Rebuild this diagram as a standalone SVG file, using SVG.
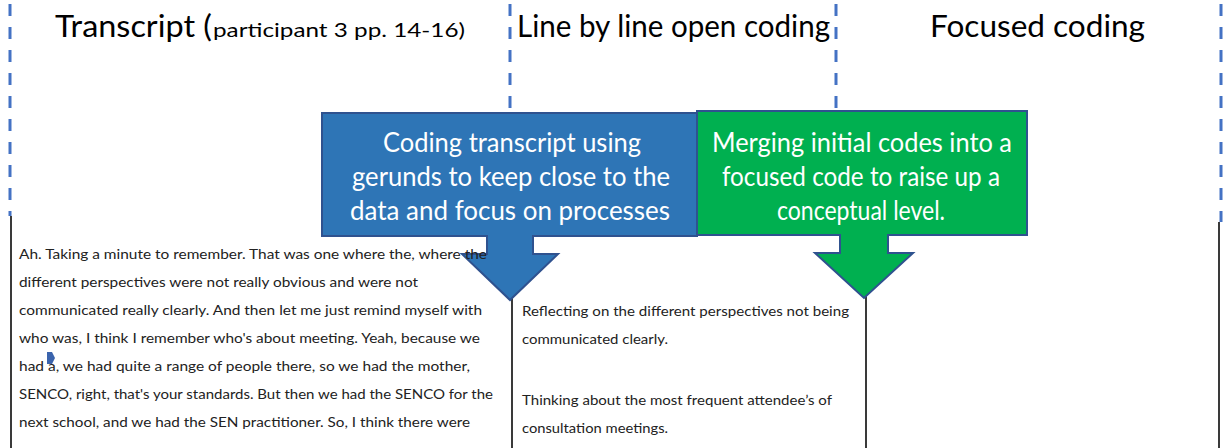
<svg xmlns="http://www.w3.org/2000/svg" width="1223" height="448" viewBox="0 0 1223 448">
  <style>
    .hdr { font-family: Lato, "Liberation Sans", Arial, sans-serif; fill: #000; }
    .call { font-family: Lato, "Liberation Sans", Arial, sans-serif; font-size: 26px; fill: #fff; text-anchor: middle; }
    .body { font-family: Lato, "Liberation Sans", Arial, sans-serif; font-size: 14px; fill: #222; }
    .guide { stroke: #4472C4; stroke-width: 3; stroke-dasharray: 12 11; fill: none; }
    .rule { stroke: #3a3a3a; stroke-width: 2; fill: none; }
    .shape { stroke: #2F528F; stroke-width: 2; stroke-linejoin: miter; }
  </style>

  <rect width="1223" height="448" fill="#fff"/>

  <!-- column separators -->
  <g id="connectors">
    <line class="guide" x1="10" y1="4" x2="10" y2="216"/>
    <line class="guide" x1="510" y1="4" x2="510" y2="112"/>
    <line class="guide" x1="836" y1="4" x2="836" y2="112"/>
    <line class="guide" x1="1221" y1="4" x2="1221" y2="222"/>
    <line class="rule" x1="11" y1="216" x2="11" y2="448"/>
    <line class="rule" x1="512" y1="298" x2="512" y2="448"/>
    <line class="rule" x1="866" y1="296" x2="866" y2="448"/>
    <line class="rule" x1="1219" y1="222" x2="1219" y2="448"/>
  </g>

  <!-- column headings -->
  <g id="heading-transcript">
    <text class="hdr" y="37"><tspan x="55" font-size="30" textLength="157" lengthAdjust="spacingAndGlyphs">Transcript (</tspan><tspan x="213" font-size="20" textLength="252" lengthAdjust="spacingAndGlyphs">participant 3 pp. 14-16)</tspan></text>
  </g>
  <g id="heading-open-coding">
    <text class="hdr" x="517" y="37" font-size="30" textLength="313" lengthAdjust="spacingAndGlyphs">Line by line open coding</text>
  </g>
  <g id="heading-focused-coding">
    <text class="hdr" x="930" y="37" font-size="30" textLength="215" lengthAdjust="spacingAndGlyphs">Focused coding</text>
  </g>

  <!-- open coding callout -->
  <g id="callout-open-coding">
    <path class="shape" fill="#2E75B6" d="M322 113 H697 V236 H533 V254 H558 L510 300 L462 254 H487 V236 H322 Z"/>
    <text class="call" x="512" y="152" textLength="258" lengthAdjust="spacingAndGlyphs">Coding transcript using</text>
    <text class="call" x="511" y="186" textLength="318" lengthAdjust="spacingAndGlyphs">gerunds to keep close to the</text>
    <text class="call" x="510" y="220" textLength="320" lengthAdjust="spacingAndGlyphs">data and focus on processes</text>
  </g>

  <!-- focused coding callout -->
  <g id="callout-focused-coding">
    <path class="shape" fill="#00B050" d="M697 111 H1027 V235 H888 V253 H913 L864 298 L815 253 H840 V235 H697 Z"/>
    <text class="call" x="862" y="152" textLength="300" lengthAdjust="spacingAndGlyphs">Merging initial codes into a</text>
    <text class="call" x="861" y="186" textLength="278" lengthAdjust="spacingAndGlyphs">focused code to raise up a</text>
    <text class="call" x="861" y="220" textLength="168" lengthAdjust="spacingAndGlyphs">conceptual level.</text>
  </g>

  <!-- transcript excerpt -->
  <g id="transcript">
    <text class="body" x="19" y="259" textLength="468" lengthAdjust="spacingAndGlyphs">Ah. Taking a minute to remember. That was one where the, where the</text>
    <text class="body" x="19" y="287" textLength="399" lengthAdjust="spacingAndGlyphs">different perspectives were not really obvious and were not</text>
    <text class="body" x="19" y="315" textLength="463" lengthAdjust="spacingAndGlyphs">communicated really clearly. And then let me just remind myself with</text>
    <text class="body" x="19" y="343" textLength="461" lengthAdjust="spacingAndGlyphs">who was, I think I remember who's about meeting. Yeah, because we</text>
    <text class="body" x="19" y="371" textLength="451" lengthAdjust="spacingAndGlyphs">had a, we had quite a range of people there, so we had the mother,</text>
    <text class="body" x="19" y="399" textLength="474" lengthAdjust="spacingAndGlyphs">SENCO, right, that's your standards. But then we had the SENCO for the</text>
    <text class="body" x="19" y="427" textLength="451" lengthAdjust="spacingAndGlyphs">next school, and we had the SEN practitioner. So, I think there were</text>
    <!-- comment anchor -->
    <path d="M47 352 H52 L55 358 L52 364 H47 Z" fill="#3B64AD"/>
  </g>

  <!-- line by line codes -->
  <g id="open-codes">
    <text class="body" x="522" y="316" textLength="327" lengthAdjust="spacingAndGlyphs">Reflecting on the different perspectives not being</text>
    <text class="body" x="522" y="344" textLength="146" lengthAdjust="spacingAndGlyphs">communicated clearly.</text>
    <text class="body" x="522" y="405" textLength="310" lengthAdjust="spacingAndGlyphs">Thinking about the most frequent attendee’s of</text>
    <text class="body" x="522" y="433" textLength="146" lengthAdjust="spacingAndGlyphs">consultation meetings.</text>
  </g>
</svg>
